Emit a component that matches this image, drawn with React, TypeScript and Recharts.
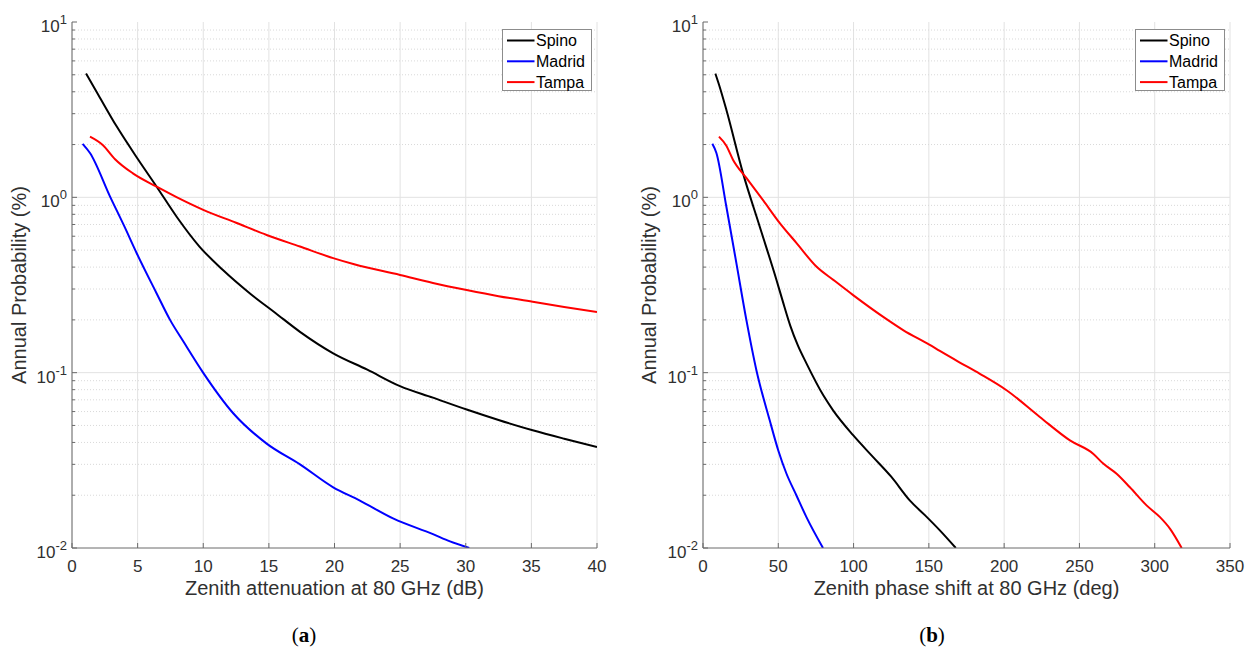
import React from 'react';
import { LineChart, Line, XAxis, YAxis, CartesianGrid, ReferenceLine } from 'recharts';

// (a) annual probability vs zenith attenuation at 80 GHz (dB)
const spinoAttX = [1.07, 2.0, 3.4, 5.0, 6.45, 8.0, 9.71, 11.5, 13.56, 15.5, 17.37, 19.9, 22.5, 24.99, 27.5, 30.07, 32.5, 35.1, 37.5, 40];
const spinoAttP = [5.08, 3.85, 2.54, 1.66, 1.15, 0.77, 0.524, 0.385, 0.283, 0.219, 0.171, 0.129, 0.104, 0.0838, 0.072, 0.0616, 0.0537, 0.0469, 0.042, 0.0377];

const madridAttX = [0.81, 1.37, 2.9, 4.0, 4.93, 6.45, 7.47, 8.5, 10.0, 12.3, 14.83, 17.37, 19.9, 21.9, 24.5, 27.5, 28.8, 30.27];
const madridAttP = [2.02, 1.79, 1.01, 0.68, 0.48, 0.283, 0.2, 0.15, 0.0998, 0.0585, 0.0394, 0.03, 0.0222, 0.0187, 0.0147, 0.012, 0.0109, 0.01];

const tampaAttX = [1.37, 2.34, 3.28, 4.64, 6.45, 8.0, 10.0, 12.5, 14.83, 17.37, 19.9, 21.5, 24.99, 27.5, 30.07, 32.5, 35.1, 37.5, 40];
const tampaAttP = [2.22, 1.99, 1.65, 1.37, 1.15, 1.0, 0.849, 0.716, 0.61, 0.524, 0.45, 0.415, 0.361, 0.325, 0.296, 0.273, 0.254, 0.237, 0.222];

// (b) annual probability vs zenith phase shift at 80 GHz (deg)
const spinoPhX = [8.2, 10.6, 15.5, 26.6, 37.7, 48.8, 53, 58, 63, 68.7, 80, 86.4, 99.7, 113, 125, 137.3, 147, 157.3, 167.9];
const spinoPhP = [5.08, 4.4, 3.16, 1.37, 0.68, 0.338, 0.255, 0.185, 0.143, 0.113, 0.074, 0.061, 0.044, 0.033, 0.0255, 0.0187, 0.0155, 0.0126, 0.01];

const madridPhX = [6.2, 8.9, 15.5, 22.2, 28.8, 35.5, 44.3, 50, 55.4, 62, 68.7, 79.7];
const madridPhP = [2.02, 1.79, 0.886, 0.42, 0.2, 0.103, 0.0535, 0.036, 0.0266, 0.02, 0.015, 0.01];

const tampaPhX = [10.6, 15.5, 19.9, 28.8, 40, 51, 62, 75.3, 87, 99.7, 121.9, 132.9, 150.6, 157.3, 170, 183.9, 201.6, 223.7, 243.7, 259.1, 265.8, 274.7, 283.5, 294.6, 303.5, 310.1, 317.9];
const tampaPhP = [2.22, 1.97, 1.64, 1.29, 0.96, 0.713, 0.55, 0.403, 0.336, 0.277, 0.202, 0.175, 0.144, 0.133, 0.115, 0.0985, 0.0794, 0.0559, 0.0411, 0.0345, 0.0303, 0.0265, 0.0222, 0.0175, 0.015, 0.0129, 0.01];

const seriesNames = ['Spino', 'Madrid', 'Tampa'];
const seriesColors = ['#000000', '#0000ff', '#ff0000'];

const attTicks = [0, 5, 10, 15, 20, 25, 30, 35, 40];
const phaseTicks = [0, 50, 100, 150, 200, 250, 300, 350];
const decadeTicks = [0.01, 0.1, 1, 10];
const minorTicks = [0.01, 0.1, 1].flatMap((d) => [2, 3, 4, 5, 6, 7, 8, 9].map((m) => +(d * m).toPrecision(3)));
const yTicks = [...decadeTicks, ...minorTicks].sort((a, b) => a - b);

const FONT = '"Liberation Sans", Arial, Helvetica, sans-serif';
const AXIS = '#6b6b6b';
const TICK_TEXT = '#303030';

const toPoints = (xs: number[], ps: number[]) => xs.map((x, i) => ({ x, p: ps[i] }));

const isDecade = (v: number) => Math.abs(Math.log10(v) - Math.round(Math.log10(v))) < 1e-6;

const BottomTick = (props: any) => {
  const { x, y, payload } = props;
  return (
    <g>
      <line x1={x} y1={y} x2={x} y2={y - 5} stroke={AXIS} />
      <text x={x} y={y + 24} textAnchor="middle" fontSize={17} fill={TICK_TEXT} fontFamily={FONT}>
        {payload.value}
      </text>
    </g>
  );
};

const TopTick = (props: any) => {
  const { x, y } = props;
  return <line x1={x} y1={y} x2={x} y2={y + 5} stroke={AXIS} />;
};

const LeftTick = (props: any) => {
  const { x, y, payload } = props;
  const major = isDecade(payload.value);
  return (
    <g>
      <line x1={x} y1={y} x2={x + (major ? 5 : 3)} y2={y} stroke={AXIS} />
      {major && (
        <text x={x - 5} y={y + 10} textAnchor="end" fontSize={17} fill={TICK_TEXT} fontFamily={FONT}>
          10
          <tspan dy={-8} fontSize={13}>
            {String(Math.round(Math.log10(payload.value)))}
          </tspan>
        </text>
      )}
    </g>
  );
};

const RightTick = (props: any) => {
  const { x, y, payload } = props;
  const major = isDecade(payload.value);
  return <line x1={x} y1={y} x2={x - (major ? 5 : 3)} y2={y} stroke={AXIS} />;
};

interface PanelProps {
  lines: Array<Array<{ x: number; p: number }>>;
  xTicks: number[];
  xMax: number;
  xLabel: string;
  width: number;
  yAxisWidth: number;
  marginRight: number;
}

const Panel: React.FC<PanelProps> = ({ lines, xTicks, xMax, xLabel, width, yAxisWidth, marginRight }) => (
  <LineChart width={width} height={651} margin={{ top: 22, right: marginRight, bottom: 73, left: 0 }}>
    <CartesianGrid horizontal={false} stroke="#e2e2e2" />
    {minorTicks.map((v) => (
      <ReferenceLine key={v} y={v} stroke="#d9d9d9" strokeDasharray="1 2" />
    ))}
    {[0.1, 1].map((v) => (
      <ReferenceLine key={v} y={v} stroke="#e2e2e2" />
    ))}
    <XAxis
      type="number"
      dataKey="x"
      domain={[0, xMax]}
      ticks={xTicks}
      interval={0}
      allowDataOverflow
      height={30}
      tickSize={0}
      tickMargin={0}
      stroke={AXIS}
      tick={BottomTick}
      label={{
        value: xLabel,
        content: ({ viewBox }: any) => (
          <text x={viewBox.x + viewBox.width / 2} y={viewBox.y + 47} textAnchor="middle" fontSize={20} fill={TICK_TEXT} fontFamily={FONT}>
            {xLabel}
          </text>
        ),
      }}
    />
    <XAxis
      xAxisId="top"
      orientation="top"
      type="number"
      dataKey="x"
      domain={[0, xMax]}
      ticks={xTicks}
      interval={0}
      allowDataOverflow
      height={0}
      tickSize={0}
      tickMargin={0}
      stroke={AXIS}
      tick={TopTick}
    />
    <YAxis
      type="number"
      scale="log"
      domain={[0.01, 10]}
      ticks={yTicks}
      interval={0}
      allowDataOverflow
      width={yAxisWidth}
      tickSize={0}
      tickMargin={0}
      stroke={AXIS}
      tick={LeftTick}
      label={{
        value: 'Annual Probability (%)',
        content: ({ viewBox }: any) => (
          <text
            transform={`translate(${viewBox.x + 26}, ${viewBox.y + viewBox.height / 2}) rotate(-90)`}
            textAnchor="middle"
            fontSize={20}
            fill={TICK_TEXT}
            fontFamily={FONT}
          >
            Annual Probability (%)
          </text>
        ),
      }}
    />
    <YAxis
      yAxisId="right"
      orientation="right"
      type="number"
      scale="log"
      domain={[0.01, 10]}
      ticks={yTicks}
      interval={0}
      allowDataOverflow
      width={0}
      tickSize={0}
      tickMargin={0}
      stroke={AXIS}
      tick={RightTick}
    />
    {lines.map((pts, i) => (
      <Line
        key={seriesNames[i]}
        name={seriesNames[i]}
        data={pts}
        dataKey="p"
        type="monotone"
        stroke={seriesColors[i]}
        strokeWidth={2}
        dot={false}
        activeDot={false}
        isAnimationActive={false}
      />
    ))}
  </LineChart>
);

const LegendBox = ({ left, top }: { left: number; top: number }) => (
  <g>
    <rect x={left} y={top} width={89} height={61} fill="#ffffff" stroke="#8c8c8c" strokeWidth={1} />
    {seriesNames.map((name, i) => {
      const cy = top + 11 + i * 20.8;
      return (
        <g key={name}>
          <line x1={left + 4.5} x2={left + 32} y1={cy} y2={cy} stroke={seriesColors[i]} strokeWidth={2} />
          <text x={left + 33.5} y={cy + 5.8} fontSize={16} fill="#000" fontFamily={FONT}>
            {name}
          </text>
        </g>
      );
    })}
  </g>
);

export default function App() {
  const attLines = [toPoints(spinoAttX, spinoAttP), toPoints(madridAttX, madridAttP), toPoints(tampaAttX, tampaAttP)];
  const phLines = [toPoints(spinoPhX, spinoPhP), toPoints(madridPhX, madridPhP), toPoints(tampaPhX, tampaPhP)];
  return (
    <div style={{ position: 'absolute', left: 0, top: 0, width: 1247, height: 651, background: '#fff', overflow: 'hidden' }}>
      <div style={{ position: 'absolute', left: 0, top: 0 }}>
        <Panel lines={attLines} xTicks={attTicks} xMax={40} xLabel="Zenith attenuation at 80 GHz (dB)" width={630} yAxisWidth={72} marginRight={33} />
      </div>
      <div style={{ position: 'absolute', left: 630, top: 0 }}>
        <Panel lines={phLines} xTicks={phaseTicks} xMax={350} xLabel="Zenith phase shift at 80 GHz (deg)" width={617} yAxisWidth={73} marginRight={17} />
      </div>
      <svg width={1247} height={651} style={{ position: 'absolute', left: 0, top: 0, pointerEvents: 'none' }}>
        <LegendBox left={502.5} top={29.5} />
        <LegendBox left={1135.5} top={29.5} />
        <text x={304} y={642} textAnchor="middle" fontSize={21} fill="#000" fontFamily='"Liberation Serif", "Times New Roman", serif'>
          (<tspan fontWeight="bold">a</tspan>)
        </text>
        <text x={932} y={642} textAnchor="middle" fontSize={21} fill="#000" fontFamily='"Liberation Serif", "Times New Roman", serif'>
          (<tspan fontWeight="bold">b</tspan>)
        </text>
      </svg>
    </div>
  );
}
